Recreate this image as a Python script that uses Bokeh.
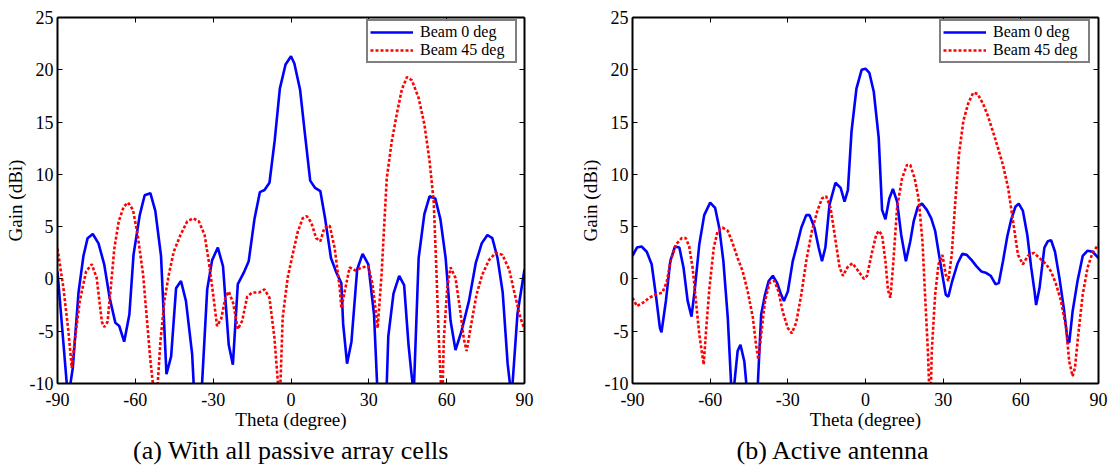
from bokeh.plotting import figure
from bokeh.models import Range1d, FixedTicker, LinearAxis, Legend, LegendItem, Title
from bokeh.layouts import row
from bokeh.embed import file_html
from bokeh.resources import INLINE

FONT = "Liberation Serif"

x_ticks = [-90, -60, -30, 0, 30, 60, 90]
y_ticks = [-10, -5, 0, 5, 10, 15, 20, 25]
series_names = ["Beam 0 deg", "Beam 45 deg"]
captions = ["(a) With all passive array cells", "(b) Active antenna"]
x_label = "Theta (degree)"
y_label = "Gain (dBi)"

# (a) passive array cells - Beam 0 deg
a_b0_theta = [-90, -86.4, -85.6, -84.1, -81.9, -80.0, -78.4, -76.4, -74.2, -72.0, -69.9, -67.7,
              -66.2, -64.3, -62.3, -60.7, -58.3, -56.4, -54.2, -52.3, -50.1, -48.0, -46.2,
              -44.3, -42.4, -40.5, -38.1, -37.5, -36.0, -34.3, -32.3, -30.4, -28.2, -26.2,
              -24.0, -22.4, -20.5, -18.2, -16.3, -14.1, -12.0, -10.2, -8.3, -6.3, -4.3, -2.1,
              0.0, 1.3, 3.5, 5.4, 7.4, 9.3, 11.3, 13.2, 15.4, 17.5, 19.4, 20.1, 21.6, 23.3,
              25.5, 27.6, 29.8, 32.0, 33.2, 35.0, 36.9, 37.5, 39.5, 41.7, 43.6, 45.3, 46.4,
              47.3, 49.2, 51.4, 53.4, 55.6, 57.6, 59.6, 61.5, 63.4, 65.6, 68.6, 71.2, 73.5,
              75.7, 77.6, 79.6, 81.6, 83.5, 84.6, 85.4, 87.3, 90.0]
a_b0_gain = [0.7, -10.1, -11.0, -8.5, -1.3, 2.2, 3.9, 4.3, 3.4, 1.4, -1.8, -4.2,
             -4.5, -6.0, -3.4, 2.3, 6.1, 8.0, 8.2, 6.5, 2.2, -9.1, -7.4,
             -0.9, -0.2, -2.1, -7.2, -10.1, -15.0, -10.1, -1.0, 1.8, 3.0, 1.2,
             -6.3, -8.2, -0.5, 0.6, 1.7, 5.7, 8.3, 8.5, 9.2, 13.2, 18.2, 20.5,
             21.3, 20.6, 18.1, 13.8, 9.4, 8.7, 8.4, 5.7, 2.0, 0.6, -0.4, -4.3, -8.1, -6.0,
             0.9, 2.4, 1.4, -3.4, -10.1, -15.0, -10.1, -5.5, -1.4, 0.3, -0.6, -6.3, -9.0,
             -11.0, 2.0, 6.2, 7.9, 7.7, 5.7, 2.0, -4.0, -6.8, -5.1, -2.1, 1.5, 3.4,
             4.2, 3.9, 2.0, -1.3, -8.1, -10.5, -10.0, -3.3, 0.9]

# (a) passive array cells - Beam 45 deg
a_b45_theta = [-90, -87.7, -85.8, -84.5, -83.2, -81.4, -79.0, -76.8, -74.9, -72.9, -72.0, -70.7,
               -69.6, -68.1, -66.4, -64.5, -62.8, -60.9, -59.1, -57.0, -55.5, -54.2, -53.2,
               -52.3, -51.4, -50.3, -48.8, -47.1, -45.2, -42.6, -40.0, -37.7, -35.5, -33.3,
               -31.7, -30.0, -28.5, -26.9, -25.3, -24.0, -22.3, -20.5, -18.8, -16.9, -15.0,
               -12.4, -10.2, -8.3, -6.4, -5.0, -4.2, -3.2, -1.3, 0.6, 2.6, 4.5, 6.1, 7.8, 9.7,
               11.3, 12.9, 14.9, 16.8, 18.8, 19.4, 20.7, 22.6, 24.9, 27.2, 29.8, 31.4, 32.7,
               33.4, 34.9, 36.9, 38.8, 40.8, 42.7, 44.7, 46.6, 49.2, 51.4, 53.4, 55.0, 56.0,
               56.9, 57.8, 58.4, 58.9, 60.2, 61.5, 63.4, 65.1, 66.6, 67.7, 69.2, 71.5, 73.7,
               76.3, 78.9, 81.5, 84.1, 86.0, 88.4, 90.0]
a_b45_gain = [2.9, -0.9, -5.0, -8.5, -5.6, -2.1, 0.7, 1.4, 0.1, -4.1, -4.6, -4.1,
              -1.2, 2.9, 5.5, 6.9, 7.3, 6.6, 4.2, 0.4, -4.0, -7.8, -10.1,
              -13.0, -10.1, -5.9, -2.1, 0.4, 2.6, 4.2, 5.5, 5.8, 5.5, 4.2,
              1.7, -1.5, -4.5, -3.8, -1.8, -1.2, -2.3, -4.8, -4.0, -1.7, -1.3,
              -1.3, -1.0, -1.8, -5.6, -10.1, -11.0, -3.7, 0.1, 2.3, 4.5, 5.8, 6.0, 5.4, 3.9,
              3.6, 4.9, 5.1, 3.0, -0.9, -2.8, -1.2, 1.1, 0.8, 1.1, 1.2, -0.5, -3.1,
              -4.7, 0.4, 9.6, 13.1, 15.8, 18.1, 19.3, 19.0, 17.3, 14.8, 11.3, 7.4, 1.1,
              -5.3, -10.1, -11.0, -5.8, -0.9, 1.1, 0.1, -2.8, -5.7, -6.9, -4.7, -1.5, 0.4,
              1.8, 2.5, 2.3, 0.9, -1.2, -3.7, -4.8]

# (b) active antenna - Beam 0 deg
b_b0_theta = [-90, -88.3, -86.5, -84.5, -82.6, -81.0, -79.4, -78.8, -77.1, -75.4, -73.6, -71.9,
              -70.3, -68.7, -67.2, -65.9, -64.2, -62.3, -60.0, -58.1, -56.5, -54.9, -53.2,
              -51.9, -51.3, -50.7, -49.4, -48.3, -46.8, -46.0, -44.0, -41.6, -40.3, -38.8,
              -37.4, -35.8, -34.1, -32.6, -31.5, -30.0, -28.1, -26.4, -24.8, -22.9, -21.6,
              -19.7, -18.1, -16.8, -15.5, -13.9, -11.6, -9.6, -8.1, -6.8, -5.4, -3.5, -1.5,
              0.0, 1.5, 3.2, 5.1, 6.4, 7.7, 9.2, 10.6, 12.2, 13.8, 15.6, 17.3, 18.6, 20.2,
              21.8, 23.7, 25.4, 26.9, 28.4, 30.1, 31.0, 32.0, 33.5, 35.6, 37.4, 39.1, 41.0,
              42.9, 44.8, 46.4, 48.4, 50.2, 51.5, 53.1, 54.8, 56.3, 57.9, 59.2, 60.8, 62.5,
              64.0, 65.3, 65.9, 67.2, 69.1, 70.4, 71.7, 73.2, 74.9, 76.6, 78.1, 78.7, 80.0,
              81.9, 83.9, 85.8, 87.7, 90.0]
b_b0_gain = [2.2, 3.0, 3.1, 2.6, 1.4, -1.5, -4.7, -5.1, -2.1, 1.7, 3.1, 3.0,
             1.1, -2.1, -3.6, -0.9, 3.3, 6.1, 7.3, 6.8, 4.9, 1.7, -3.7,
             -10.1, -12.0, -10.1, -6.9, -6.3, -7.9, -10.1, -15.0, -10.1, -3.4, -1.5,
             -0.2, 0.3, -0.4, -1.5, -2.1, -1.2, 1.7, 3.3, 4.9, 6.1, 6.1,
             4.9, 3.0, 1.7, 3.0, 7.1, 9.2, 8.7, 7.4, 8.5, 14.1, 18.2, 20.0,
             20.1, 19.7, 17.9, 13.5, 6.6, 5.7, 7.7, 8.6, 7.4, 4.2, 1.7, 3.6, 5.5, 6.9,
             7.2, 6.6, 5.8, 4.6, 2.3, -0.2, -1.5, -1.7, -0.2, 1.5, 2.4, 2.3, 1.8,
             1.2, 0.7, 0.6, 0.3, -0.5, -0.4, 1.7, 4.1, 5.7, 6.9, 7.2, 6.5, 4.2,
             1.1, -1.2, -2.5, -0.9, 3.0, 3.6, 3.7, 2.6, 0.1, -2.8, -6.0, -6.1, -3.1,
             -0.2, 2.2, 2.7, 2.6, 2.0]

# (b) active antenna - Beam 45 deg
b_b45_theta = [-90, -88.3, -86.1, -83.5, -81.0, -78.4, -76.7, -75.2, -73.2, -71.0, -69.4, -68.1,
               -66.8, -65.5, -64.2, -62.5, -61.6, -60.3, -58.6, -57.1, -55.2, -53.2, -51.3,
               -49.4, -47.4, -45.5, -43.5, -42.3, -41.4, -40.3, -38.8, -37.1, -35.2, -33.6,
               -31.9, -30.0, -28.5, -26.8, -24.8, -22.9, -20.7, -18.6, -16.8, -15.2, -13.5,
               -11.9, -10.0, -8.7, -7.0, -5.1, -3.2, -0.6, 0.6, 2.3, 4.1, 5.1, 6.4, 7.7, 8.7,
               9.6, 10.6, 12.2, 14.1, 16.0, 17.3, 19.0, 20.5, 22.0, 23.0, 24.1, 24.7, 25.3,
               25.6, 26.9, 28.2, 29.7, 31.0, 32.0, 33.3, 34.6, 36.1, 37.8, 39.7, 41.6, 43.3,
               45.5, 47.4, 49.6, 51.2, 53.1, 55.1, 57.0, 58.9, 60.8, 62.7, 65.0, 67.2, 69.8,
               71.7, 73.6, 75.5, 77.5, 78.7, 80.0, 80.9, 82.2, 83.9, 85.8, 87.7, 90.0]
b_b45_gain = [-1.8, -2.6, -2.3, -1.8, -1.5, -1.3, -0.2, 1.8, 3.3, 3.9, 3.9, 3.1,
              1.1, -2.1, -5.3, -8.2, -5.0, -0.9, 3.0, 4.6, 4.9, 4.6, 3.4,
              2.0, 0.7, -1.2, -3.7, -6.3, -7.7, -5.3, -2.1, -0.4, -0.2, -1.2,
              -3.2, -4.7, -5.2, -4.2, -1.5, 1.7, 4.6, 6.5, 7.7, 7.9, 6.8,
              4.2, 1.1, 0.3, 1.1, 1.5, 0.9, 0.0, 0.3, 2.3, 4.2, 4.6, 4.2, 1.7, -1.1,
              -1.8, 1.1, 6.8, 9.6, 10.9, 10.9, 9.6, 7.7, 3.6, -1.5, -6.9, -11.0, -10.1,
              -6.9, -1.5, 1.4, 2.3, 0.4, -0.2, 2.3, 7.1, 11.9, 15.1, 16.8, 17.8, 17.7,
              16.7, 15.5, 13.8, 12.5, 10.9, 8.7, 5.5, 2.3, 1.4, 2.2, 2.5, 2.0, 1.4,
              0.7, -0.5, -2.1, -4.7, -7.9, -9.3, -8.5, -5.3, -1.5, 1.1, 2.5, 3.3]

BLUE = "#0000FF"
RED = "#FF0000"


def style_axis(ax, ticks, show_labels):
    ax.ticker = FixedTicker(ticks=ticks)
    ax.major_tick_in = 5
    ax.major_tick_out = 0
    ax.minor_tick_in = 0
    ax.minor_tick_out = 0
    ax.axis_line_width = 2
    ax.axis_line_color = "black"
    ax.major_tick_line_color = "black"
    ax.major_tick_line_width = 1
    if show_labels:
        ax.major_label_overrides = {t: str(t) for t in ticks}
        ax.major_label_text_font = FONT
        ax.major_label_text_font_size = "18px"
        ax.major_label_text_color = "black"
        ax.axis_label_text_font = FONT
        ax.axis_label_text_font_size = "19px"
        ax.axis_label_text_font_style = "normal"
        ax.axis_label_text_color = "black"
    else:
        ax.major_label_text_font_size = "2px"
        ax.major_label_text_color = None
        ax.major_label_text_alpha = 0
        ax.major_label_standoff = 0


def make_panel(width, border_left, border_right, b0_t, b0_g, b45_t, b45_g,
               caption, caption_align, caption_offset, legend_loc):
    p = figure(width=width, height=466, output_backend="svg", toolbar_location=None,
               x_range=Range1d(-90, 90), y_range=Range1d(-10, 25),
               min_border_left=border_left, min_border_right=border_right,
               min_border_top=17, min_border_bottom=83,
               x_axis_label=x_label, y_axis_label=y_label)
    p.grid.visible = False
    p.outline_line_color = None
    p.background_fill_color = "white"
    p.border_fill_color = "white"

    style_axis(p.xaxis[0], x_ticks, True)
    style_axis(p.yaxis[0], y_ticks, True)
    p.xaxis[0].major_label_standoff = 9
    p.xaxis[0].axis_label_standoff = 0
    p.yaxis[0].major_label_standoff = 4
    p.yaxis[0].axis_label_standoff = 1

    top = LinearAxis()
    style_axis(top, x_ticks, False)
    p.add_layout(top, "above")
    right = LinearAxis()
    style_axis(right, y_ticks, False)
    p.add_layout(right, "right")

    r0 = p.line(b0_t, b0_g, line_color=BLUE, line_width=2.6)
    r1 = p.line(b45_t, b45_g, line_color=RED, line_width=2.6, line_dash="3 2")

    legend = Legend(items=[LegendItem(label=series_names[0], renderers=[r0]),
                           LegendItem(label=series_names[1], renderers=[r1])],
                    location=legend_loc)
    legend.label_text_font = FONT
    legend.label_text_font_size = "16px"
    legend.label_text_color = "black"
    legend.border_line_color = "black"
    legend.border_line_width = 2
    legend.background_fill_alpha = 1
    legend.glyph_width = 43
    legend.glyph_height = 14
    legend.label_height = 14
    legend.label_width = 93
    legend.label_standoff = 7
    legend.padding = 2
    legend.spacing = 0
    legend.margin = 0
    p.add_layout(legend)

    cap = Title(text=caption, align=caption_align, offset=caption_offset, standoff=2,
                text_font=FONT, text_font_size="26px", text_font_style="normal",
                text_color="black")
    p.add_layout(cap, "below")
    return p


p1 = make_panel(568, 57, 44, a_b0_theta, a_b0_gain, a_b45_theta, a_b45_gain,
                captions[0], "center", 0, (309, 320))
p2 = make_panel(540, 64, 10, b_b0_theta, b_b0_gain, b_b45_theta, b_b45_gain,
                captions[1], "left", 104, (307, 320))

layout = row(p1, p2)
open("out.html", "w").write(file_html(layout, INLINE))
